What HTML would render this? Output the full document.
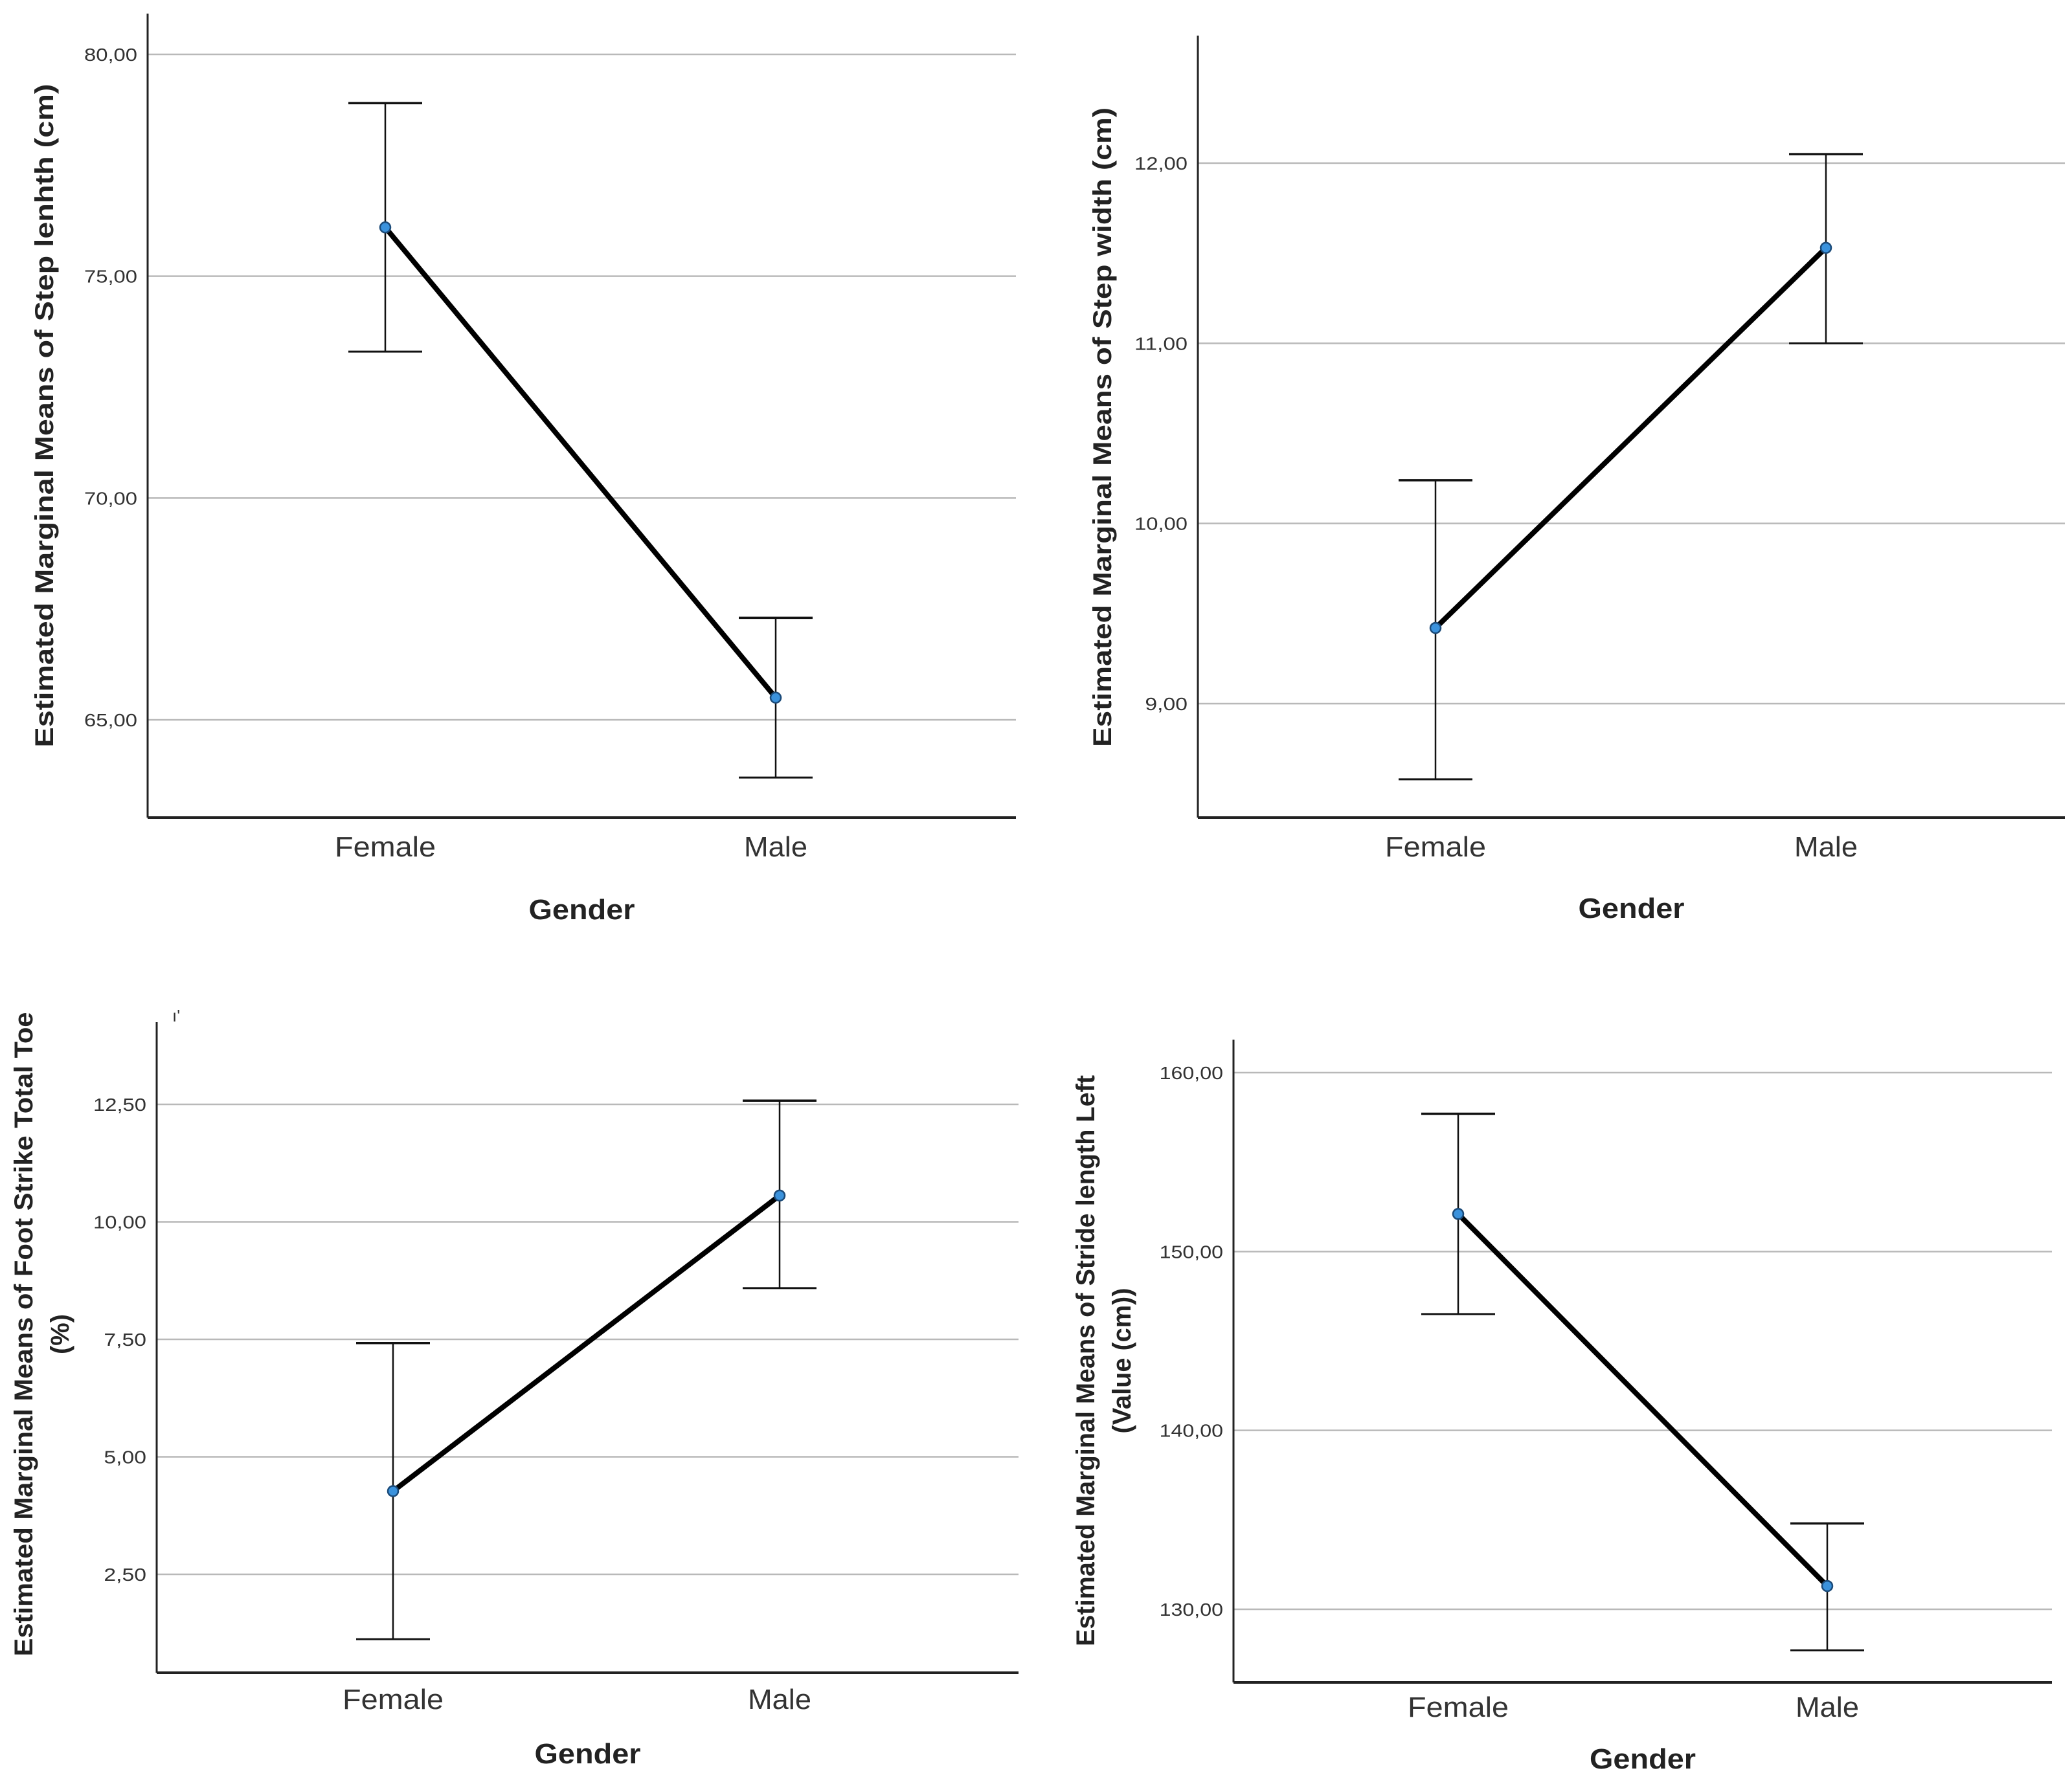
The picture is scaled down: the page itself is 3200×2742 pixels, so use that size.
<!DOCTYPE html>
<html><head><meta charset="utf-8"><style>
html,body{margin:0;padding:0;background:#fff;}
svg{display:block;font-family:"Liberation Sans",Arial,sans-serif;}
</style></head><body>
<svg id="root" width="3200" height="2742" viewBox="0 0 3200 2742" xmlns="http://www.w3.org/2000/svg"></svg>
<script>
const categories = ["Female", "Male"];
// Chart 1: Step length
const stepLenMeans = [76.1, 65.5];
const stepLenLower = [73.3, 63.7];
const stepLenUpper = [78.9, 67.3];
const stepLenTicks = [65, 70, 75, 80];
const stepLenTickLabels = ["65,00", "70,00", "75,00", "80,00"];
// Chart 2: Step width
const stepWidMeans = [9.42, 11.53];
const stepWidLower = [8.58, 11.0];
const stepWidUpper = [10.24, 12.05];
const stepWidTicks = [9, 10, 11, 12];
const stepWidTickLabels = ["9,00", "10,00", "11,00", "12,00"];
// Chart 3: Foot strike total toe
const toeMeans = [4.27, 10.56];
const toeLower = [1.12, 8.59];
const toeUpper = [7.42, 12.58];
const toeTicks = [2.5, 5, 7.5, 10, 12.5];
const toeTickLabels = ["2,50", "5,00", "7,50", "10,00", "12,50"];
// Chart 4: Stride length left
const strideMeans = [152.1, 131.3];
const strideLower = [146.5, 127.7];
const strideUpper = [157.7, 134.8];
const strideTicks = [130, 140, 150, 160];
const strideTickLabels = ["130,00", "140,00", "150,00", "160,00"];

const NS = "http://www.w3.org/2000/svg";
const root = document.getElementById('root');
function mk(tag, attrs, parent){const e=document.createElementNS(NS,tag);for(const k in attrs)e.setAttribute(k,attrs[k]);(parent||root).appendChild(e);return e;}
const catLen = {Female:156, Male:98};

function chart(cfg){
  const g = mk('g',{});
  
  
  const y = v => cfg.y0px + (v - cfg.y0v) * (cfg.y1px - cfg.y0px) / (cfg.y1v - cfg.y0v);
  const xs = cfg.catX;
  cfg.ticks.forEach((t,i)=>{
    const gl = mk('line',{x1:cfg.left,x2:cfg.right,y1:y(t),y2:y(t),stroke:'#b9b9b9','stroke-width':2.5},g);
    
    
    const lbl = cfg.tickLabels[i];
    const tl = mk('text',{x:cfg.left-16,y:y(t)+10,'text-anchor':'end','font-size':28,fill:'#333',textLength:lbl.length*16.4,lengthAdjust:'spacingAndGlyphs'},g);
    tl.textContent = lbl;
    
    
  });
  const ya = mk('line',{x1:cfg.left,x2:cfg.left,y1:cfg.top,y2:cfg.bottom,stroke:'#222','stroke-width':3},g);
  
  
  const xa = mk('line',{x1:cfg.left,x2:cfg.right,y1:cfg.bottom,y2:cfg.bottom,stroke:'#222','stroke-width':4},g);
  
  
  categories.forEach((c,i)=>{
    const eb = mk('g',{stroke:'#111'},g);
    
    
    mk('line',{x1:xs[i],x2:xs[i],y1:y(cfg.upper[i]),y2:y(cfg.lower[i]),'stroke-width':2.5},eb);
    mk('line',{x1:xs[i]-57,x2:xs[i]+57,y1:y(cfg.upper[i]),y2:y(cfg.upper[i]),'stroke-width':3.5},eb);
    mk('line',{x1:xs[i]-57,x2:xs[i]+57,y1:y(cfg.lower[i]),y2:y(cfg.lower[i]),'stroke-width':3},eb);
  });
  const ml = mk('polyline',{points:categories.map((c,i)=>xs[i]+','+y(cfg.means[i])).join(' '),fill:'none',stroke:'#000','stroke-width':8},g);
  
  
  categories.forEach((c,i)=>{
    const p = mk('circle',{cx:xs[i],cy:y(cfg.means[i]),r:8,fill:'#3b92dc',stroke:'#1b4a78','stroke-width':2.5},g);
    
    
    const cl = mk('text',{x:xs[i],y:cfg.catY+15,'text-anchor':'middle','font-size':44,fill:'#333',textLength:catLen[c],lengthAdjust:'spacingAndGlyphs'},g);
    cl.textContent = c;
    
    
  });
  const xt = mk('text',{x:(cfg.left+cfg.right)/2,y:cfg.genderY+15,'text-anchor':'middle','font-size':44,'font-weight':'bold',fill:'#222',textLength:164,lengthAdjust:'spacingAndGlyphs'},g);
  xt.textContent = 'Gender';
  
  
  const ytg = mk('text',{transform:'translate('+cfg.titleX+','+cfg.titleY+') rotate(-90)','text-anchor':'middle','font-size':40,'font-weight':'bold',fill:'#222'},g);
  
  
  cfg.title.forEach((line,k)=>{
    const ts = mk('tspan',{x:0,y:k*56 - (cfg.title.length-1)*28 + 14,textLength:cfg.titleLen[k],lengthAdjust:'spacingAndGlyphs'},ytg);
    ts.textContent = line;
  });
}

chart({name:'chart-step-length',left:228,right:1569,top:21,bottom:1263,
  y0v:80,y0px:84,y1v:65,y1px:1112,catX:[595,1198],catY:1308,genderY:1405,
  ticks:stepLenTicks,tickLabels:stepLenTickLabels,means:stepLenMeans,lower:stepLenLower,upper:stepLenUpper,
  titleX:68,titleY:642,title:['Estimated Marginal Means of Step lenhth (cm)'],titleLen:[1025]});
chart({name:'chart-step-width',left:1850,right:3189,top:55,bottom:1263,
  y0v:12,y0px:252,y1v:9,y1px:1087,catX:[2217,2820],catY:1308,genderY:1403,
  ticks:stepWidTicks,tickLabels:stepWidTickLabels,means:stepWidMeans,lower:stepWidLower,upper:stepWidUpper,
  titleX:1702,titleY:660,title:['Estimated Marginal Means of Step width (cm)'],titleLen:[988]});
chart({name:'chart-foot-strike-toe',left:242,right:1573,top:1579,bottom:2584,
  y0v:12.5,y0px:1706,y1v:2.5,y1px:2432,catX:[607,1204],catY:2625,genderY:2709,
  ticks:toeTicks,tickLabels:toeTickLabels,means:toeMeans,lower:toeLower,upper:toeUpper,
  titleX:64,titleY:2061,title:['Estimated Marginal Means of Foot Strike Total Toe','(%)'],titleLen:[995,62]});
chart({name:'chart-stride-length-left',left:1905,right:3169,top:1606,bottom:2599,
  y0v:160,y0px:1657,y1v:130,y1px:2486,catX:[2252,2822],catY:2637,genderY:2717,
  ticks:strideTicks,tickLabels:strideTickLabels,means:strideMeans,lower:strideLower,upper:strideUpper,
  titleX:1704,titleY:2102,title:['Estimated Marginal Means of Stride length Left','(Value (cm))'],titleLen:[882,225]});

const mark = mk('text',{x:266,y:1578,'font-size':26,fill:'#333'});
mark.textContent = "ı'";


</script>
</body></html>
